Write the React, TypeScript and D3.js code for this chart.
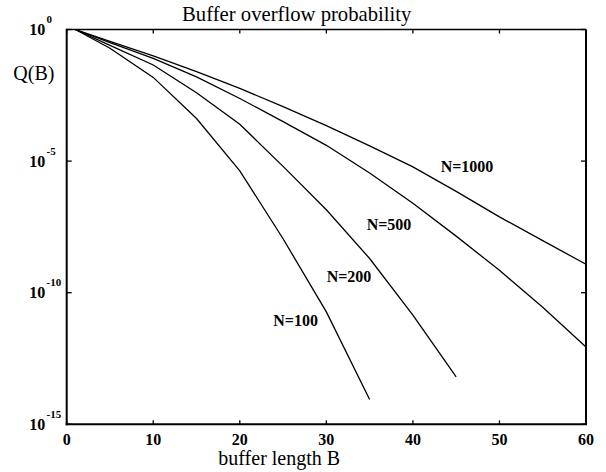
import React from "react";
import * as d3 from "d3";

const bufferB100 = [1, 5, 10, 15, 20, 25, 30, 35];
const logQ100 = [0, -0.71, -1.82, -3.38, -5.37, -7.95, -10.73, -14.06];
const bufferB200 = [1, 5, 10, 15, 20, 25, 30, 35, 40, 45];
const logQ200 = [0, -0.6, -1.35, -2.4, -3.6, -5.2, -6.85, -8.7, -10.85, -13.2];
const bufferB500 = [1, 5, 10, 15, 20, 25, 30, 35, 40, 45, 50, 55, 60];
const logQ500 = [0, -0.5, -1.1, -1.8, -2.62, -3.5, -4.4, -5.45, -6.6, -7.85, -9.15, -10.55, -12.06];
const bufferB1000 = [1, 5, 10, 15, 20, 25, 30, 35, 40, 45, 50, 55, 60];
const logQ1000 = [0, -0.45, -1.0, -1.6, -2.24, -2.93, -3.65, -4.42, -5.22, -6.15, -7.12, -8.02, -8.92];

const seriesNames = ["N=100", "N=200", "N=500", "N=1000"];
const xTicks = [0, 10, 20, 30, 40, 50, 60];
const yTickExps = [0, -5, -10, -15];

const title = "Buffer overflow probability";
const xTitle = "buffer length B";
const yTitle = "Q(B)";

const W = 606;
const H = 472;
const left = 66.7;
const right = 586;
const top = 29.5;
const bottom = 424.3;

const serif = "'Liberation Serif', 'Times New Roman', Times, serif";

export default function App() {
  const x = d3.scaleLinear().domain([0, 60]).range([left, right]);
  const y = d3.scaleLog().domain([1, 1e-15]).range([top, bottom]);

  const series = [
    { name: seriesNames[0], b: bufferB100, q: logQ100, lab: [273.3, 326] },
    { name: seriesNames[1], b: bufferB200, q: logQ200, lab: [326.7, 281.7] },
    { name: seriesNames[2], b: bufferB500, q: logQ500, lab: [366.7, 230] },
    { name: seriesNames[3], b: bufferB1000, q: logQ1000, lab: [440.7, 172] },
  ];

  const line = d3
    .line<[number, number]>()
    .x((d) => x(d[0]))
    .y((d) => y(Math.pow(10, d[1])));

  return (
    <svg
      width={W}
      height={H}
      style={{ position: "absolute", left: 0, top: 0, background: "#fff" }}
      fontFamily={serif}
    >
      <rect x={0} y={0} width={W} height={H} fill="#fff" />
      {series.map((s) => (
        <path
          key={s.name}
          d={line(s.b.map((b, i) => [b, s.q[i]] as [number, number])) || ""}
          fill="none"
          stroke="#000"
          strokeWidth={1.3}
        />
      ))}
      <line x1={left} x2={right} y1={top} y2={top} stroke="#000" strokeWidth={1.5} />
      <line x1={right} x2={right} y1={top} y2={bottom} stroke="#000" strokeWidth={2} />
      <line x1={left} x2={left} y1={top - 0.75} y2={bottom + 1} stroke="#000" strokeWidth={2} />
      <line x1={left - 1} x2={right + 1} y1={bottom} y2={bottom} stroke="#000" strokeWidth={2} />
      {xTicks.map((t) => (
        <g key={"xt" + t}>
          <line x1={x(t)} x2={x(t)} y1={bottom} y2={bottom - 4} stroke="#000" strokeWidth={1.3} />
          <line x1={x(t)} x2={x(t)} y1={top} y2={top + 4} stroke="#000" strokeWidth={1.3} />
          <text x={x(t)} y={445} textAnchor="middle" fontWeight="bold" fontSize={16} fill="#000">
            {t}
          </text>
        </g>
      ))}
      {yTickExps.map((e) => {
        const yy = y(Math.pow(10, e));
        return (
          <g key={"yt" + e}>
            <line x1={left} x2={left + 5} y1={yy} y2={yy} stroke="#000" strokeWidth={1.3} />
            <line x1={right} x2={right - 5} y1={yy} y2={yy} stroke="#000" strokeWidth={1.3} />
            <text x={29.3} y={yy + 5.5} fontWeight="bold" fontSize={16} fill="#000">
              10
            </text>
            <text x={46.5} y={yy - 6.5} fontWeight="bold" fontSize={11} fill="#000">
              {e === 0 ? "0" : String(e)}
            </text>
          </g>
        );
      })}
      {series.map((s) => (
        <text key={"lab" + s.name} x={s.lab[0]} y={s.lab[1]} fontWeight="bold" fontSize={16} fill="#000">
          {s.name}
        </text>
      ))}
      <text x={182} y={20.5} fontSize={20.7} fill="#000">
        {title}
      </text>
      <text x={218.3} y={465} fontSize={20} fill="#000">
        {xTitle}
      </text>
      <text x={13.3} y={79.5} fontSize={20} fill="#000">
        {yTitle}
      </text>
    </svg>
  );
}
